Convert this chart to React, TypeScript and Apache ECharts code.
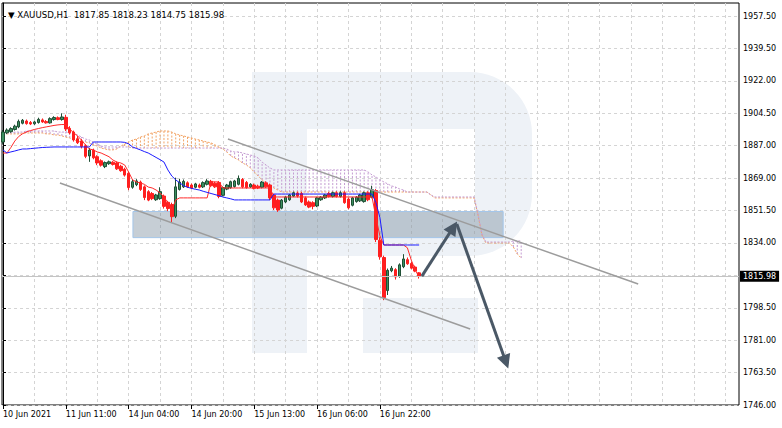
import React, { useEffect, useRef } from "react";
import * as echarts from "echarts";

const symbolName = "XAUUSD,H1";

// [open, high, low, close] per H1 bar
const candles: number[][] = [
  [1889.0, 1895.5, 1888.0, 1894.4], [1894.0, 1896.4, 1893.3, 1895.5], [1894.6, 1897.0, 1894.0, 1896.3],
  [1895.8, 1898.4, 1895.2, 1897.6], [1897.2, 1901.2, 1896.5, 1900.2], [1899.2, 1901.5, 1898.6, 1900.8],
  [1900.4, 1901.2, 1898.4, 1899.0], [1899.6, 1900.4, 1898.2, 1898.8], [1898.9, 1900.6, 1898.3, 1899.9],
  [1899.6, 1902.2, 1899.0, 1901.3], [1901.0, 1901.8, 1899.4, 1899.9], [1900.1, 1900.9, 1899.0, 1899.4],
  [1899.4, 1902.4, 1899.0, 1901.7], [1901.2, 1903.0, 1900.6, 1902.3], [1902.2, 1902.9, 1900.8, 1901.2],
  [1901.2, 1904.6, 1900.6, 1902.6], [1902.4, 1903.8, 1895.0, 1896.1], [1896.4, 1897.6, 1893.1, 1894.0],
  [1894.4, 1895.2, 1889.2, 1890.1], [1890.8, 1892.2, 1887.9, 1888.6], [1889.6, 1890.6, 1885.5, 1886.6],
  [1887.0, 1887.8, 1880.2, 1881.2], [1881.4, 1885.8, 1878.2, 1884.6], [1884.6, 1885.4, 1879.6, 1880.4],
  [1881.0, 1881.8, 1876.4, 1877.6], [1878.8, 1879.6, 1875.6, 1876.4], [1875.6, 1878.4, 1874.8, 1877.8],
  [1877.2, 1878.9, 1876.6, 1878.2], [1878.0, 1878.6, 1876.2, 1876.8], [1877.6, 1878.4, 1873.8, 1874.4],
  [1875.8, 1876.6, 1872.8, 1873.4], [1874.2, 1875.0, 1870.2, 1871.0], [1872.0, 1872.8, 1862.8, 1864.2],
  [1864.4, 1868.6, 1863.6, 1867.4], [1865.8, 1868.8, 1865.0, 1867.8], [1867.2, 1868.0, 1862.4, 1863.2],
  [1864.6, 1865.4, 1857.4, 1858.8], [1862.0, 1862.8, 1856.8, 1857.4], [1861.0, 1861.8, 1857.4, 1858.2],
  [1857.6, 1860.8, 1857.0, 1860.2], [1858.2, 1864.4, 1857.6, 1862.0], [1859.6, 1860.4, 1852.8, 1854.0],
  [1856.2, 1857.0, 1851.4, 1852.8], [1855.0, 1856.0, 1845.0, 1848.4], [1848.6, 1869.6, 1847.6, 1864.6],
  [1863.2, 1869.0, 1862.6, 1867.2], [1864.6, 1868.6, 1864.0, 1867.6], [1866.8, 1867.6, 1864.0, 1864.6],
  [1865.6, 1866.4, 1863.4, 1864.0], [1864.4, 1866.8, 1863.8, 1866.2], [1865.6, 1866.4, 1863.8, 1864.4],
  [1864.6, 1867.6, 1864.0, 1866.9], [1866.0, 1868.8, 1865.4, 1867.8], [1867.6, 1868.4, 1864.6, 1865.2],
  [1866.6, 1867.4, 1864.0, 1864.6], [1867.0, 1867.8, 1858.4, 1859.4], [1860.0, 1864.8, 1859.4, 1864.2],
  [1863.4, 1866.2, 1862.8, 1865.6], [1864.2, 1868.0, 1863.6, 1867.4], [1864.8, 1868.4, 1864.2, 1867.8],
  [1866.0, 1870.8, 1865.4, 1869.2], [1868.6, 1869.4, 1863.8, 1864.6], [1867.0, 1867.8, 1863.6, 1864.2],
  [1864.6, 1866.6, 1864.0, 1866.0], [1865.6, 1866.4, 1863.2, 1863.8], [1865.0, 1865.8, 1863.4, 1864.0],
  [1864.4, 1867.8, 1863.8, 1867.2], [1866.8, 1867.6, 1864.0, 1864.6], [1865.6, 1866.4, 1857.4, 1858.6],
  [1860.2, 1861.0, 1852.0, 1853.2], [1857.4, 1858.2, 1851.0, 1852.0], [1853.0, 1858.0, 1852.4, 1857.4],
  [1856.4, 1859.6, 1855.8, 1859.0], [1857.6, 1860.8, 1857.0, 1860.2], [1859.6, 1862.0, 1859.0, 1861.4],
  [1861.2, 1862.0, 1858.8, 1859.6], [1861.0, 1861.8, 1855.8, 1856.4], [1858.6, 1859.4, 1854.2, 1854.8],
  [1856.4, 1857.2, 1853.0, 1853.6], [1856.0, 1856.8, 1852.4, 1854.0], [1854.2, 1859.2, 1853.6, 1858.6],
  [1857.6, 1859.6, 1857.0, 1859.0], [1858.6, 1860.8, 1858.0, 1860.2], [1861.0, 1861.8, 1858.8, 1859.4],
  [1859.4, 1862.0, 1858.8, 1861.4], [1861.4, 1862.2, 1858.8, 1859.4], [1859.4, 1862.2, 1858.8, 1861.4],
  [1861.4, 1862.2, 1855.4, 1856.0], [1858.0, 1858.8, 1852.4, 1853.2], [1854.6, 1859.2, 1854.0, 1858.6],
  [1856.6, 1859.6, 1856.0, 1859.0], [1857.0, 1860.8, 1856.4, 1860.2], [1856.6, 1862.0, 1856.0, 1861.4],
  [1861.4, 1862.2, 1856.8, 1857.6], [1859.0, 1865.2, 1858.4, 1863.0], [1862.6, 1863.4, 1834.6, 1836.0],
  [1835.6, 1837.2, 1825.0, 1826.6], [1826.2, 1827.2, 1803.0, 1804.4], [1808.2, 1820.2, 1805.8, 1819.2],
  [1819.0, 1821.6, 1818.2, 1820.4], [1819.6, 1820.4, 1814.2, 1815.6], [1816.0, 1823.0, 1815.2, 1822.2],
  [1821.2, 1828.0, 1820.4, 1825.4], [1825.0, 1826.2, 1822.2, 1822.8], [1823.0, 1823.8, 1819.8, 1820.4],
  [1821.0, 1821.8, 1818.2, 1818.8], [1817.85, 1818.23, 1814.75, 1815.98],
];

const tenkan = [
  1883.0, 1883.0, 1886.0, 1889.5, 1892.0, 1893.5, 1894.5, 1895.2, 1895.8, 1896.3,
  1896.8, 1897.2, 1897.6, 1898.0, 1898.3, 1898.5, 1898.5, 1896.0, 1894.0, 1892.3,
  1890.0, 1887.4, 1885.2, 1884.7, 1883.6, 1883.0, 1882.0, 1881.0, 1879.2, 1878.1,
  1877.6, 1876.5, 1872.7, 1868.4, 1867.3, 1866.7, 1866.0, 1864.5, 1864.0, 1862.9,
  1861.3, 1859.1, 1855.9, 1852.0, 1857.5, 1858.6, 1858.6, 1858.6, 1858.6, 1858.6,
  1858.6, 1858.6, 1858.6, 1867.3, 1867.3, 1867.3, 1864.0, 1864.0, 1864.0, 1864.0,
  1864.0, 1864.0, 1864.0, 1864.0, 1864.0, 1864.0, 1864.0, 1864.0, 1864.0, 1859.1,
  1859.1, 1859.1, 1859.1, 1859.1, 1859.1, 1859.1, 1859.1, 1859.1, 1859.1, 1859.1,
  1859.1, 1859.1, 1859.1, 1859.1, 1859.1, 1859.1, 1859.1, 1859.1, 1859.1, 1859.1,
  1859.1, 1859.1, 1859.1, 1859.1, 1859.1, 1848.0, 1838.0, 1833.0, 1833.0, 1833.0,
  1833.0, 1833.0, 1833.0, 1831.5, 1824.8, 1819.4, 1815.6,
];

const kijun = [
  1884.7, 1883.0, 1883.6, 1884.1, 1884.7, 1885.2, 1885.2, 1885.4, 1885.6, 1885.8,
  1886.0, 1886.1, 1886.2, 1886.3, 1886.3, 1886.3, 1886.3, 1886.3, 1886.3, 1886.3,
  1886.3, 1886.3, 1886.3, 1889.0, 1889.0, 1889.0, 1889.0, 1889.0, 1889.0, 1889.0,
  1889.0, 1888.8, 1888.0, 1886.3, 1885.5, 1884.7, 1883.8, 1883.0, 1881.8, 1880.6,
  1879.4, 1878.1, 1873.8, 1870.5, 1868.4, 1866.8, 1865.3, 1864.4, 1863.8, 1863.3,
  1862.9, 1862.2, 1861.6, 1861.0, 1860.4, 1859.8, 1859.1, 1858.6, 1858.1, 1857.5,
  1857.5, 1857.5, 1857.5, 1857.5, 1857.5, 1857.5, 1857.5, 1857.5, 1857.5, 1860.7,
  1860.7, 1860.7, 1860.7, 1860.7, 1860.7, 1860.7, 1860.7, 1860.7, 1860.7, 1860.7,
  1860.7, 1860.7, 1860.7, 1860.7, 1860.7, 1860.7, 1860.7, 1860.7, 1860.7, 1860.7,
  1860.7, 1860.7, 1860.7, 1860.7, 1860.7, 1856.0, 1848.0, 1833.0, 1833.0, 1833.0,
  1833.0, 1833.0, 1833.0, 1833.0, 1833.0, 1833.0, 1833.0,
];

const senkouA = [
  1893.4, 1893.4, 1893.4, 1893.4, 1893.4, 1893.9, 1893.9, 1893.9, 1893.9, 1893.9,
  1893.9, 1893.4, 1893.4, 1892.8, 1892.8, 1892.3, 1891.7, 1891.2, 1890.1, 1889.5,
  1889.0, 1889.0, 1888.5, 1887.4, 1886.8, 1885.7, 1885.2, 1884.7, 1884.7, 1885.2,
  1886.8, 1887.9, 1889.0, 1890.1, 1890.6, 1891.7, 1892.3, 1893.4, 1893.9, 1894.4,
  1895.0, 1895.0, 1895.0, 1894.4, 1893.4, 1892.8, 1892.3, 1891.7, 1891.2, 1890.6,
  1890.1, 1889.5, 1889.0, 1888.5, 1887.4, 1886.3, 1885.2, 1883.6, 1881.4, 1880.3,
  1879.2, 1877.6, 1876.5, 1874.9, 1872.7, 1870.5, 1868.4, 1866.7, 1865.1, 1864.0,
  1862.9, 1861.8, 1861.8, 1861.8, 1861.8, 1861.8, 1861.8, 1861.8, 1861.8, 1861.8,
  1861.8, 1861.8, 1861.8, 1861.8, 1861.8, 1861.8, 1861.8, 1861.8, 1861.8, 1861.8,
  1861.8, 1861.8, 1861.8, 1861.8, 1861.8, 1861.8, 1861.8, 1861.8, 1861.8, 1861.8,
  1861.8, 1861.8, 1861.8, 1861.8, 1861.8, 1861.8, 1861.8, 1861.8, 1861.8, 1860.2,
  1858.6, 1858.6, 1858.6, 1858.6, 1858.6, 1858.6, 1858.6, 1858.6, 1858.6, 1858.6,
  1858.6, 1849.3, 1838.4, 1834.1, 1834.1, 1834.1, 1834.1, 1834.1, 1834.1, 1834.1,
  1831.9, 1828.1, 1825.9,
];

const senkouB = [
  1893.9, 1893.9, 1893.9, 1894.4, 1894.4, 1894.4, 1895.0, 1895.0, 1895.0, 1895.0,
  1895.0, 1895.0, 1895.0, 1895.0, 1894.4, 1894.4, 1894.4, 1893.9, 1893.4, 1892.8,
  1891.7, 1890.6, 1890.1, 1889.0, 1887.9, 1886.8, 1886.3, 1886.3, 1886.3, 1886.3,
  1886.3, 1886.3, 1886.3, 1885.7, 1885.7, 1885.7, 1885.7, 1885.7, 1885.7, 1885.7,
  1885.7, 1885.7, 1885.7, 1885.7, 1885.7, 1885.7, 1885.7, 1885.7, 1885.7, 1885.7,
  1885.7, 1885.7, 1885.7, 1885.7, 1885.7, 1885.7, 1885.7, 1885.2, 1884.1, 1883.6,
  1883.6, 1883.0, 1882.5, 1881.9, 1881.4, 1880.3, 1878.1, 1876.5, 1874.9, 1873.8,
  1873.8, 1873.8, 1873.8, 1873.8, 1873.8, 1873.8, 1873.8, 1873.8, 1873.8, 1873.8,
  1873.8, 1873.8, 1873.8, 1873.8, 1873.8, 1873.8, 1873.8, 1873.8, 1873.8, 1873.8,
  1873.8, 1873.8, 1873.8, 1872.7, 1871.1, 1870.0, 1868.4, 1867.3, 1866.2, 1865.1,
  1864.5, 1863.5, 1862.9, 1861.8, 1861.8, 1861.8, 1861.8, 1861.8, 1861.8, 1860.2,
  1859.1, 1859.1, 1859.1, 1859.1, 1859.1, 1859.1, 1859.1, 1859.1, 1859.1, 1859.1,
  1859.1, 1849.8, 1839.0, 1834.6, 1834.6, 1834.6, 1834.6, 1834.6, 1834.6, 1834.6,
  1835.2, 1835.2, 1835.2,
];

const yTickValues = [1746, 1763.625, 1781.25, 1798.875, 1816.5, 1834.125, 1851.75, 1869.375, 1887, 1904.625, 1922.25, 1939.875, 1957.5];
const yTickLabels = ["1746.00", "1763.50", "1781.00", "1798.50", "", "1834.00", "1851.50", "1869.00", "1887.00", "1904.50", "1922.00", "1939.50", "1957.50"];
const xGridValues = [0, 8, 16, 24, 32, 40, 48, 56, 64, 72, 80, 88, 96, 104, 112, 120, 128, 136, 144, 152, 160, 168, 176, 184];
const xLabelValues = [0, 16, 32, 48, 64, 80, 96];
const xLabels = ["10 Jun 2021", "11 Jun 11:00", "14 Jun 04:00", "14 Jun 20:00", "15 Jun 13:00", "16 Jun 06:00", "16 Jun 22:00"];

// annotations: [barIndex, price]
const zoneBox = [[33.1, 1851.2], [127.4, 1837.0]];
const channelUpper = [[57.3, 1890.6], [161.8, 1811.8]];
const channelLower = [[14.5, 1866.7], [119.0, 1787.3]];
const arrowUp = [[106.7, 1816.1], [114.7, 1842.6]];
const arrowDown = [[115.6, 1844.4], [128.1, 1769.4]];

const FONT = "DejaVu Sans";
const WM = "#eef2f7";
const ORANGE = "#f2a466";
const PLUM = "#c49cd2";

export default function App() {
  const ref = useRef<HTMLDivElement>(null);
  useEffect(() => {
    if (!ref.current) return;
    const chart = echarts.init(ref.current, undefined, { renderer: "svg" });
    const last = candles[candles.length - 1];
    const lastClose = last[3];
    const title = "\u25BC " + symbolName + "  " + last.map((v) => v.toFixed(2)).join(" ");
    const xMin = -0.245;
    const xMax = 187.48;
    const option: any = {
      animation: false,
      backgroundColor: "#ffffff",
      title: {
        text: title,
        left: 3,
        top: 5,
        textStyle: { fontSize: 8.6, fontWeight: "normal", fontFamily: FONT, color: "#000" },
      },
      graphic: [
        { type: "rect", z: -1, silent: true, shape: { x: 252, y: 72, width: 55, height: 281 }, style: { fill: WM } },
        { type: "rect", z: -1, silent: true, shape: { x: 252, y: 72, width: 280, height: 184, r: [0, 62, 62, 0] }, style: { fill: WM } },
        { type: "rect", z: -1, silent: true, shape: { x: 307, y: 129, width: 168, height: 83 }, style: { fill: "#ffffff" } },
        { type: "rect", z: -1, silent: true, shape: { x: 363, y: 298, width: 115, height: 55 }, style: { fill: WM } },
      ],
      grid: { left: 2, top: 3, right: 43, bottom: 23, show: true, borderColor: "#000", borderWidth: 1, backgroundColor: "transparent" },
      xAxis: [
        {
          type: "value", min: xMin, max: xMax,
          axisLine: { show: false },
          axisTick: { show: true, customValues: xLabelValues, length: 4, lineStyle: { color: "#000" } },
          axisLabel: {
            customValues: xLabelValues, align: "left", margin: 5, fontSize: 8, fontFamily: FONT, color: "#000",
            formatter: (v: number) => xLabels[xLabelValues.indexOf(Math.round(v))] || "",
          },
          splitLine: { show: false },
        },
        {
          type: "value", min: xMin, max: xMax, position: "bottom",
          axisLine: { show: false },
          axisTick: { show: false, customValues: xGridValues },
          axisLabel: { show: false, customValues: xGridValues },
          splitLine: { show: true, lineStyle: { color: "#d4d4d4", type: [3, 3], width: 1 } },
        },
      ],
      yAxis: {
        type: "value", position: "right", min: 1746, max: 1964.57, scale: true,
        axisLine: { show: true, lineStyle: { color: "#000" } },
        axisTick: { show: true, customValues: yTickValues, length: 3, lineStyle: { color: "#000" } },
        axisLabel: {
          customValues: yTickValues.filter((_, i) => yTickLabels[i] !== ""),
          margin: 4, fontSize: 8, fontFamily: FONT, color: "#000",
          formatter: (v: number) => {
            const k = yTickValues.findIndex((t) => Math.abs(t - v) < 1e-6);
            return k >= 0 ? yTickLabels[k] : "";
          },
        },
        splitLine: { show: true, lineStyle: { color: "#d4d4d4", type: [3, 3], width: 1 } },
      },
      series: [
        {
          type: "custom", name: "kumo", z: 1, silent: true,
          data: senkouA.map((a, i) => [i, a, senkouB[i]]),
          encode: { x: 0, y: [1, 2] },
          renderItem: (_p: any, api: any) => {
            const i = api.value(0), a = api.value(1), b = api.value(2);
            const pa = api.coord([i, a]);
            const pb = api.coord([i, b]);
            if (Math.abs(pa[1] - pb[1]) < 1) return { type: "group", children: [] };
            return {
              type: "line",
              shape: { x1: pa[0], y1: pa[1], x2: pb[0], y2: pb[1] },
              style: { stroke: a > b ? ORANGE : PLUM, lineWidth: 1, lineDash: [2, 1.5] },
            };
          },
        },
        {
          type: "line", name: "Senkou A", z: 1, showSymbol: false, silent: true,
          data: senkouA.map((v, i) => [i, v]),
          lineStyle: { color: ORANGE, width: 1, type: [2, 1.5] },
        },
        {
          type: "line", name: "Senkou B", z: 1, showSymbol: false, silent: true,
          data: senkouB.map((v, i) => [i, v]),
          lineStyle: { color: PLUM, width: 1, type: [2, 1.5] },
        },
        {
          type: "candlestick", name: symbolName, z: 2, barWidth: 3,
          data: candles.map(([o, h, l, c], i) => [i, o, c, l, h]),
          encode: { x: 0, y: [1, 2, 3, 4] },
          itemStyle: { color: "#3b8f5f", borderColor: "#1f4f35", color0: "#ff1f1f", borderColor0: "#ff1f1f", borderWidth: 1 },
          markLine: {
            silent: true, symbol: "none",
            lineStyle: { color: "#c4c4c4", type: "solid", width: 1 },
            label: {
              show: true, position: "end", distance: 1, formatter: () => lastClose.toFixed(2),
              backgroundColor: "#000", color: "#fff", fontSize: 8, fontFamily: FONT, padding: [2, 3, 1, 3],
            },
            data: [{ yAxis: lastClose }],
          },
        },
        {
          type: "line", name: "Tenkan-sen", z: 3, showSymbol: false, silent: true,
          data: tenkan.map((v, i) => [i, v]),
          lineStyle: { color: "#ff2a2a", width: 1 },
        },
        {
          type: "line", name: "Kijun-sen", z: 3, showSymbol: false, silent: true,
          data: kijun.map((v, i) => [i, v]),
          lineStyle: { color: "#1a1aff", width: 1 },
        },
        {
          type: "line", name: "zone", z: 4, data: [], silent: true,
          markArea: {
            silent: true,
            itemStyle: { color: "rgba(105,125,145,0.38)", borderColor: "#a4c6ea", borderWidth: 1 },
            data: [[{ coord: zoneBox[0] }, { coord: zoneBox[1] }]],
          },
        },
        {
          type: "line", name: "channel", z: 5, data: [], silent: true,
          markLine: {
            silent: true, symbol: "none", label: { show: false },
            lineStyle: { color: "#9c9c9c", width: 1.5, type: "solid" },
            data: [
              [{ coord: channelUpper[0] }, { coord: channelUpper[1] }],
              [{ coord: channelLower[0] }, { coord: channelLower[1] }],
            ],
          },
        },
        {
          type: "line", name: "arrows", z: 6, data: [], silent: true,
          markLine: {
            silent: true, symbol: ["none", "triangle"], symbolSize: 14, label: { show: false },
            lineStyle: { color: "#4a5866", width: 3, type: "solid" },
            itemStyle: { color: "#4a5866" },
            data: [
              [{ coord: arrowUp[0] }, { coord: arrowUp[1] }],
              [{ coord: arrowDown[0] }, { coord: arrowDown[1] }],
            ],
          },
        },
      ],
    };
    chart.setOption(option);
    return () => chart.dispose();
  }, []);
  return (
    <div
      ref={ref}
      style={{ position: "fixed", left: 0, top: 0, width: 782, height: 428, background: "#fff" }}
    />
  );
}
